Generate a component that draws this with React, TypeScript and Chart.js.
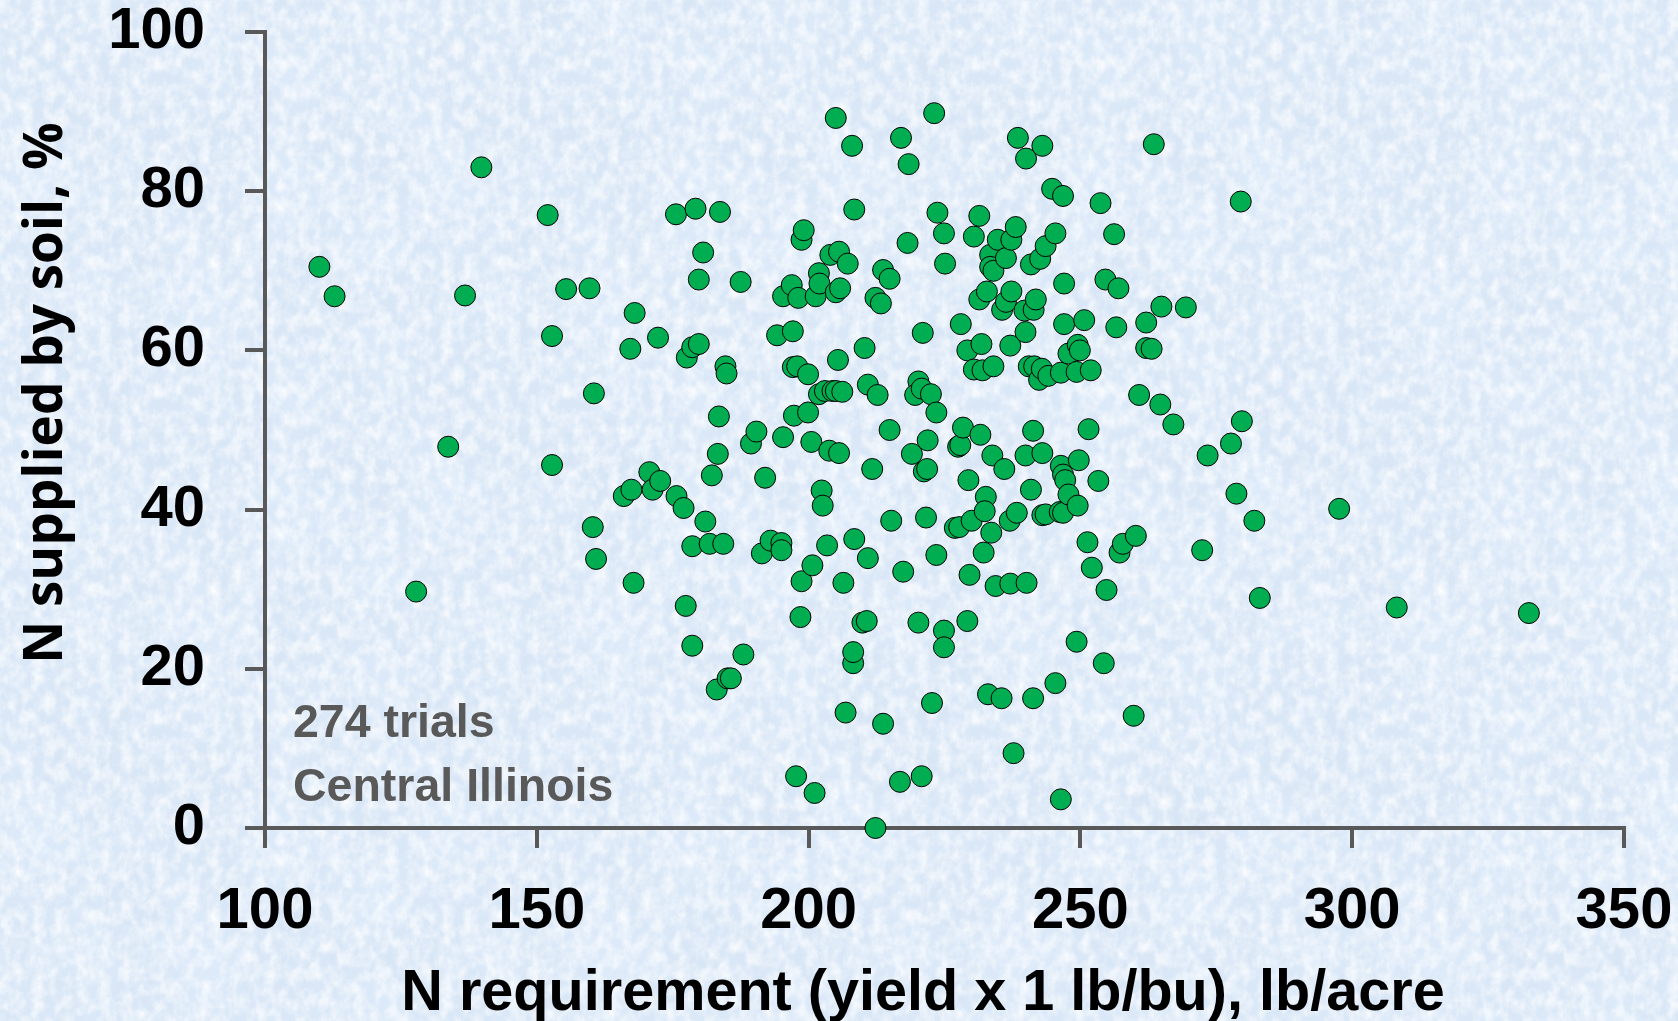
import React, { useEffect, useRef } from "react";
import { Chart, registerables } from "chart.js";

Chart.register(...registerables);

const xTitle = "N requirement (yield x 1 lb/bu), lb/acre";
const yTitle = "N supplied by soil, %";
const noteLines = ["274 trials", "Central Illinois"];

const xValues = [
  110, 112.8, 127.8, 133.7, 136.8, 139.8, 152, 152.8, 152.8, 155.4, 159.7, 160.5, 160.3, 160.9, 166, 167.4, 167.2, 168, 167.8, 172.3,
  170.7, 171.3, 172.7, 175.6, 179.2, 183.7, 175.7, 177, 177.4, 177.6, 178.6, 179.8, 179.8, 180.6, 178.6, 181, 181.8, 184.3, 178.6, 182.2,
  183.3, 183.5, 184.7, 184.9, 187.5, 183.1, 185.1, 185.7, 188, 189.4, 190.4, 191.4, 192, 193, 194.2, 195, 195, 195.3, 195.3, 196.9,
  198.1, 197.1, 197.1, 197.9, 197.3, 198.7, 199.1, 198.7, 198.5, 197.7, 201.1, 199.9, 199.9, 200.5, 200.7, 201.3, 201.9, 202, 201.9, 203,
  204.4, 205, 206.2, 202.4, 202.6, 203.4, 203.8, 205.6, 204, 205.6, 207.2, 205, 205.8, 205, 208, 208.4, 205.4, 206.4, 206.8, 208.2,
  208.2, 208.4, 209.9, 210.7, 210.9, 210.3, 210.9, 211.7, 212.3, 212.7, 212.3, 213.3, 213.7, 214.9, 213.7, 214.9, 215.2, 217, 218.4, 218.2,
  217.4, 216.8, 220.8, 219, 220.2, 219.6, 220.8, 221, 220.2, 221.2, 221.8, 221.9, 221.6, 222.5, 223.5, 222.7, 223.1, 223.7, 224.9, 225.1,
  223.5, 224.9, 224.9, 226.9, 227.7, 227.5, 227.9, 228, 228.4, 229.4, 229.2, 229.2, 229.6, 230.4, 230, 230.4, 231.4, 231.4, 231.8, 231.6,
  232, 232.6, 232.4, 232.2, 233.6, 232.8, 233, 234, 233.8, 233.4, 233.4, 234, 234.8, 234.4, 235.5, 235.6, 236.3, 236.3, 236, 237,
  237.1, 237.1, 237.3, 237.3, 238.1, 238.3, 237.7, 238.5, 239.9, 239.7, 239.9, 240, 240.1, 240.5, 240.9, 240.9, 241.3, 241.3, 241.4, 241.8,
  241.5, 243, 242.6, 242.4, 242.9, 243, 243.6, 243, 243.6, 244.1, 245.4, 244.8, 245.4, 246.8, 246.4, 246.2, 246.8, 246.4, 246.8, 247.2,
  247, 247, 247.8, 246.4, 247.8, 249.3, 249.5, 249.9, 249.3, 249.5, 249.7, 250.7, 251.3, 251.5, 251.9, 252.1, 253.3, 253.7, 254.6, 254.8,
  254.3, 256.2, 256.6, 257, 257.2, 257.8, 260.2, 259.8, 260.8, 262.1, 262.1, 263.1, 263.5, 264.9, 264.7, 267.1, 269.4, 272.4, 273.4, 277.7,
  278.7, 279.5, 279.7, 282, 283, 297.6, 308.2, 332.5,
];

const yValues = [
  70.5, 66.8, 29.7, 47.9, 66.9, 83, 77, 61.8, 45.6, 67.7, 67.8, 54.6, 37.8, 33.8, 41.7, 42.5, 60.2, 64.7, 30.8, 61.6,
  44.7, 42.5, 43.6, 77.1, 77.8, 77.4, 41.7, 40.2, 27.9, 59.1, 60.4, 60.8, 68.9, 72.3, 35.4, 38.5, 35.7, 35.7, 22.9, 44.3,
  47, 51.7, 58, 57.1, 68.6, 17.4, 18.8, 18.8, 21.8, 48.3, 49.8, 34.5, 44, 36.1, 61.9, 35.8, 34.9, 49.1, 66.8, 68.2,
  66.6, 62.4, 57.9, 58, 51.8, 73.9, 75.1, 31, 26.5, 6.5, 4.4, 57, 52.2, 48.5, 33, 66.8, 69.7, 68.4, 54.5, 54.9,
  54.9, 54.9, 54.8, 42.4, 40.5, 35.5, 47.4, 47.1, 72, 72.4, 70.9, 67.3, 67.8, 89.2, 85.7, 77.7, 58.8, 30.8, 14.5, 20.7,
  22.1, 36.3, 25.8, 26, 33.9, 60.3, 55.7, 45.1, 0, 54.4, 66.6, 65.9, 70.1, 69, 13.1, 50, 38.6, 86.7, 83.4, 73.5,
  32.2, 5.8, 6.5, 47, 56.1, 54.4, 55.2, 62.2, 25.8, 44.8, 45.1, 48.7, 39, 54.5, 52.2, 15.7, 89.8, 77.3, 74.7, 70.9,
  34.3, 24.8, 22.7, 37.7, 37.8, 47.9, 48.1, 63.3, 50.3, 43.7, 60, 26, 31.8, 57.6, 38.6, 74.3, 76.9, 66.4, 60.8, 49.4,
  57.5, 41.6, 39.8, 34.6, 37.1, 67.4, 16.8, 58, 46.8, 72, 70.5, 70, 73.9, 30.4, 16.3, 65.1, 66.1, 71.6, 45.1, 38.6,
  30.7, 60.6, 73.9, 67.4, 75.5, 39.6, 9.4, 86.7, 62.3, 65, 46.8, 84.1, 30.8, 58, 70.8, 42.5, 49.9, 16.3, 65.1, 66.4,
  58, 85.7, 71.5, 56.3, 57.7, 47.1, 73.1, 39.3, 39.4, 56.8, 74.7, 80.3, 18.2, 79.4, 57.2, 39.7, 39.6, 45.5, 44.4, 43.7,
  68.4, 63.3, 41.9, 3.6, 59.6, 57.3, 60.7, 60, 23.4, 40.5, 46.2, 63.8, 35.9, 50.1, 57.5, 32.7, 43.6, 78.5, 68.9, 29.9,
  20.7, 74.6, 62.9, 67.8, 34.6, 35.7, 36.7, 14.1, 54.4, 63.5, 60.3, 60.2, 85.9, 65.5, 53.2, 50.7, 65.4, 34.9, 46.8, 48.3,
  42, 78.7, 51.1, 38.6, 28.9, 40.1, 27.7, 27,
];

const points = xValues.map((x, i) => ({ x, y: yValues[i] }));

const tile = `<svg xmlns='http://www.w3.org/2000/svg' width='409' height='327'>
<filter id='a' x='0' y='0' width='100%' height='100%'><feTurbulence type='fractalNoise' baseFrequency='0.09 0.07' numOctaves='4' seed='4' stitchTiles='stitch'/><feColorMatrix values='0 0 0 0 1 0 0 0 0 1 0 0 0 0 1 1.5 0 0 0 -0.5'/></filter>
<filter id='b' x='0' y='0' width='100%' height='100%'><feTurbulence type='fractalNoise' baseFrequency='0.012' numOctaves='2' seed='9' stitchTiles='stitch'/><feColorMatrix values='0 0 0 0 0.76 0 0 0 0 0.86 0 0 0 0 0.98 0 1.4 0 0 -0.55'/></filter>
<rect width='409' height='327' fill='#d8e6f6'/><rect width='409' height='327' filter='url(#b)'/><rect width='409' height='327' filter='url(#a)'/></svg>`;
const tileUrl = `url("data:image/svg+xml,${encodeURIComponent(tile)}")`;

const axisColor = "#595959";
const tickFont = { family: "'Liberation Sans Narrow', 'Liberation Sans'", size: 58, weight: "bold" as const };

const clearPadding = (scale: any) => {
  scale.paddingTop = 0;
  scale.paddingBottom = 0;
  scale.paddingLeft = 0;
  scale.paddingRight = 0;
};

const textPlugin = {
  id: "chartTexts",
  afterDraw(chart: Chart) {
    const ctx = chart.ctx;
    ctx.save();
    ctx.textBaseline = "alphabetic";
    ctx.textAlign = "left";
    ctx.fillStyle = "#595959";
    ctx.font = "bold 46.5px 'Liberation Sans Narrow', 'Liberation Sans'";
    ctx.fillText(noteLines[0], 293, 737);
    ctx.fillText(noteLines[1], 293, 801);
    ctx.fillStyle = "#000000";
    ctx.textAlign = "center";
    ctx.font = "bold 57.6px 'Liberation Sans Narrow', 'Liberation Sans'";
    ctx.fillText(xTitle, 923, 1010);
    ctx.translate(62, 393);
    ctx.rotate(-Math.PI / 2);
    ctx.font = "bold 53px 'Open Sans'";
    ctx.fillText(yTitle, 0, 0);
    ctx.restore();
  },
};

export default function App() {
  const ref = useRef<HTMLCanvasElement>(null);
  useEffect(() => {
    document.body.style.margin = "0";
    const chart = new Chart(ref.current!, {
      type: "scatter",
      data: {
        datasets: [
          {
            data: points,
            backgroundColor: "#00ad50",
            borderColor: "#000000",
            borderWidth: 1,
            pointRadius: 10.5,
            clip: false,
          },
        ],
      },
      options: {
        animation: false,
        responsive: false,
        layout: { padding: { top: 32, right: 54, bottom: 0, left: 0 } },
        plugins: { legend: { display: false }, tooltip: { enabled: false } },
        scales: {
          x: {
            type: "linear",
            min: 100,
            max: 350,
            afterFit(scale: any) {
              scale.height = 193;
              clearPadding(scale);
            },
            ticks: { stepSize: 50, color: "#000", font: tickFont, padding: 29, maxRotation: 0, autoSkip: false },
            grid: { drawOnChartArea: false, color: axisColor, lineWidth: 4, tickLength: 20 },
            border: { color: axisColor, width: 4 },
          },
          y: {
            type: "linear",
            min: 0,
            max: 100,
            afterFit(scale: any) {
              scale.width = 265;
              clearPadding(scale);
            },
            ticks: { stepSize: 20, color: "#000", font: tickFont, padding: 40, autoSkip: false },
            grid: { drawOnChartArea: false, color: axisColor, lineWidth: 4, tickLength: 20 },
            border: { color: axisColor, width: 4 },
          },
        },
      },
      plugins: [textPlugin],
    } as any);
    return () => chart.destroy();
  }, []);
  return (
    <div style={{ position: "relative", width: 1678, height: 1021, overflow: "hidden", backgroundImage: tileUrl }}>
      <canvas ref={ref} width={1678} height={1021} style={{ display: "block" }} />
    </div>
  );
}
